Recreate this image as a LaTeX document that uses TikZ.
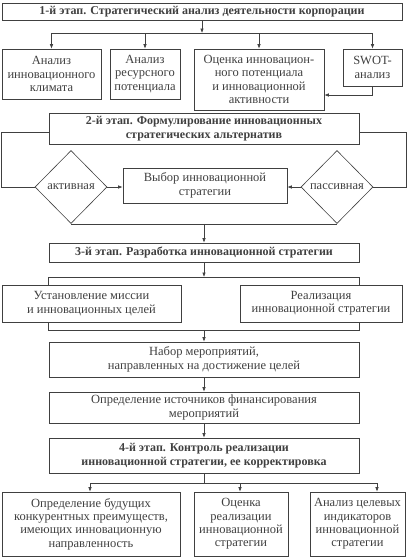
\documentclass[tikz,border=0pt]{standalone}
\usepackage{fontspec}
\setmainfont{Liberation Serif}
\usetikzlibrary{arrows.meta,shapes.geometric}
\begin{document}
\begin{tikzpicture}[x=1pt, y=-1pt, line width=0.6pt, color=black!75,
    box/.style={draw, align=center, inner sep=0pt, font=\fontsize{12.5}{13.4}\selectfont},
    stage/.style={box, font=\fontsize{12}{13.4}\selectfont\bfseries},
    choice/.style={draw, diamond, aspect=1, inner sep=0pt, minimum width=72pt, minimum height=73pt,
      font=\fontsize{12.5}{13.4}\selectfont},
    arr/.style={-{Latex[length=4.5pt,width=3.5pt]}}]
  \useasboundingbox (0,0) rectangle (407,557);

  % stage 1
  \node[stage, minimum width=400pt, minimum height=17pt] (s1) at (202,11.5) {1-й этап. Стратегический анализ деятельности корпорации};
  \node[box, minimum width=99pt, minimum height=50pt] (a1) at (51.5,74) {Анализ\\инновационного\\климата};
  \node[box, minimum width=70pt, minimum height=50pt] (a2) at (145,74) {Анализ\\ресурсного\\потенциала};
  \node[box, minimum width=130pt, minimum height=61pt] (a3) at (259,79.5) {Оценка инновацион-\\ного потенциала\\и инновационной\\активности};
  \node[box, minimum width=59pt, minimum height=37pt] (a4) at (372.5,67.5) {SWOT-\\анализ};

  \draw[arr] (s1.south) -- (s1.south |- 0,33);
  \draw (a1.north |- 0,33) -- (a4.north |- 0,33);
  \foreach \n in {a1,a2,a3,a4}
    \draw[arr] (\n.north |- 0,33) -- (\n.north);
  \draw[arr] (a4.south) |- (a3.east |- 0,95);

  % stage 2
  \node[stage, minimum width=310pt, minimum height=31pt] (s2) at (204,128.5) {2-й этап. Формулирование инновационных\\стратегических альтернатив};
  \node[choice] (d1) at (71,187) {активная};
  \node[choice] (d2) at (337,187) {пассивная};
  \node[box, minimum width=164pt, minimum height=35pt] (c) at (205,185.5) {Выбор инновационной\\стратегии};

  \draw (s2.west |- 0,132) -| (1,187) -- (d1.west);
  \draw (s2.east |- 0,132) -| (406,187) -- (d2.east);
  \draw[arr] (d1.east) -- (c.west |- d1.east);
  \draw[arr] (d2.west) -- (c.east |- d2.west);
  \draw (d1.south) -- (d2.south);

  % stage 3
  \node[stage, minimum width=310pt, minimum height=19pt] (s3) at (204,252.5) {3-й этап. Разработка инновационной стратегии};
  \draw[arr] (s3.north |- d1.south) -- (s3.north);
  \node[box, minimum width=179pt, minimum height=37pt] (b1) at (91.5,303.5) {Установление миссии\\и инновационных целей};
  \node[box, minimum width=162pt, minimum height=37pt] (b2) at (321,303.5) {Реализация\\инновационной стратегии};
  \node[box, minimum width=310pt, minimum height=35pt] (m1) at (204,359.5) {Набор мероприятий,\\направленных на достижение целей};
  \node[box, minimum width=310pt, minimum height=31pt] (m2) at (204,407.5) {Определение источников финансирования\\мероприятий};

  \draw[arr] (s3.south) -- (s3.south |- 0,277);
  \draw (b1.north -| s3.west) -- (s3.west |- 0,277) -- (s3.east |- 0,277) -- (b2.north -| s3.east);
  \draw (b1.south -| m1.west) -- (m1.west |- 0,330) -- (m1.east |- 0,330) -- (b2.south -| m1.east);
  \draw[arr] (m1.north |- 0,330) -- (m1.north);
  \draw[arr] (m1) -- (m2);

  % stage 4
  \node[stage, minimum width=310pt, minimum height=35pt] (s4) at (204,455.5) {4-й этап. Контроль реализации\\инновационной стратегии, ее корректировка};
  \draw[arr] (m2) -- (s4);
  \node[box, minimum width=178pt, minimum height=64pt] (e1) at (91,524) {Определение будущих\\конкурентных преимуществ,\\имеющих инновационную\\направленность};
  \node[box, minimum width=94pt, minimum height=64pt] (e2) at (241,524) {Оценка\\реализации\\инновационной\\стратегии};
  \node[box, minimum width=95pt, minimum height=64pt] (e3) at (357.5,524) {Анализ целевых\\индикаторов\\инновационной\\стратегии};

  \draw (s4.south) -- (s4.south |- 0,483);
  \draw (90,483) -- (377,483);
  \foreach \n/\x in {e1/90, e2/240, e3/377}
    \draw[arr] (\x,483) -- (\n.north -| \x,0);
\end{tikzpicture}
\end{document}
